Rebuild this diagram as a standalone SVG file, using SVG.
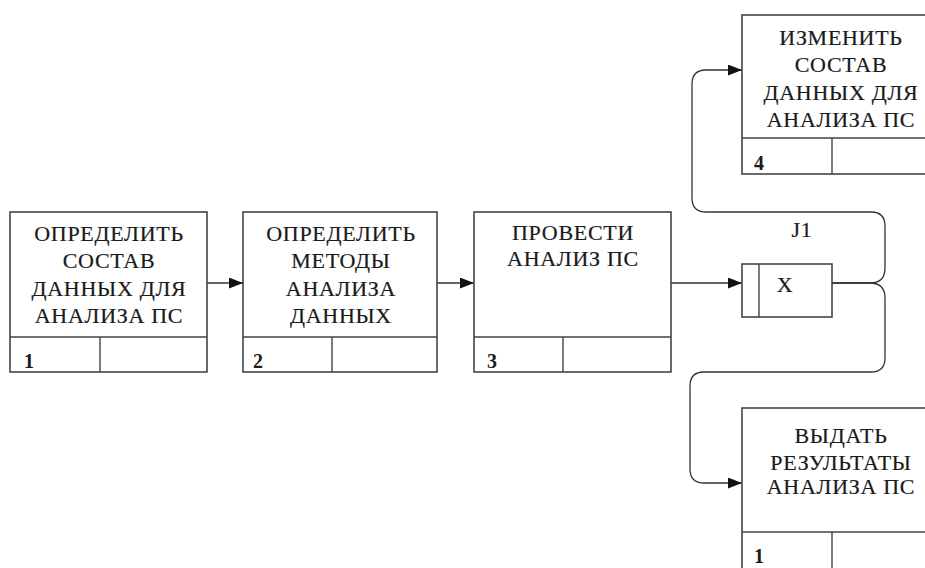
<svg xmlns="http://www.w3.org/2000/svg" width="925" height="568" viewBox="0 0 925 568">
<defs>
<style>
.box{fill:#fff;stroke:#444;stroke-width:1.6}
.ln{fill:none;stroke:#444;stroke-width:1.4}
text{font-family:'Liberation Serif','Times New Roman',serif}
.t{font-size:22px;letter-spacing:0.7px;fill:#1a1a1a;stroke:#1a1a1a;stroke-width:0.2px;text-anchor:middle}
.n{font-size:20px;font-weight:bold;fill:#1a1a1a}
.c{fill:none;stroke:#333;stroke-width:1.3}
</style>
<marker id="ah" viewBox="0 0 14 11" refX="14" refY="5.5" markerWidth="14" markerHeight="11" markerUnits="userSpaceOnUse" orient="auto">
<path d="M0,0 L14,5.5 L0,11 Z" fill="#111"/>
</marker>
</defs>
<rect width="925" height="568" fill="#fff"/>
<g id="connectors">
<path class="c" d="M207,283 H243" marker-end="url(#ah)"/>
<path class="c" d="M437,283 H474" marker-end="url(#ah)"/>
<path class="c" d="M671,283 H742" marker-end="url(#ah)"/>
<path class="c" d="M832,283 H870 Q885,283 885,268 V226 Q885,212 871,212 H706 Q692,212 692,198 V84 Q692,70 706,70 H742" marker-end="url(#ah)"/>
<path class="c" d="M832,283 H870 Q885,283 885,298 V358 Q885,372 871,372 H704 Q690,372 690,386 V469 Q690,483 704,483 H742" marker-end="url(#ah)"/>
</g>
<g id="node1">
<rect class="box" x="10" y="212" width="197" height="160"/>
<path class="ln" d="M10,337 H207 M100,337 V372"/>
<text class="t" x="109" y="241">ОПРЕДЕЛИТЬ</text>
<text class="t" x="109" y="268">СОСТАВ</text>
<text class="t" x="109" y="296">ДАННЫХ ДЛЯ</text>
<text class="t" x="109" y="323">АНАЛИЗА ПС</text>
<text class="n" x="24" y="368">1</text>
</g>
<g id="node2">
<rect class="box" x="243" y="212" width="194" height="160"/>
<path class="ln" d="M243,337 H437 M332,337 V372"/>
<text class="t" x="341" y="241">ОПРЕДЕЛИТЬ</text>
<text class="t" x="341" y="268">МЕТОДЫ</text>
<text class="t" x="341" y="296">АНАЛИЗА</text>
<text class="t" x="341" y="323">ДАННЫХ</text>
<text class="n" x="253" y="368">2</text>
</g>
<g id="node3">
<rect class="box" x="474" y="212" width="197" height="160"/>
<path class="ln" d="M474,337 H671 M563,337 V372"/>
<text class="t" x="573" y="240">ПРОВЕСТИ</text>
<text class="t" x="573" y="266">АНАЛИЗ ПС</text>
<text class="n" x="487" y="368">3</text>
</g>
<g id="junction">
<rect class="box" x="742" y="264" width="90" height="53"/>
<path class="ln" d="M759,264 V317"/>
<text class="t" x="785" y="292">X</text>
<text class="t" x="802" y="237">J1</text>
</g>
<g id="node4">
<rect class="box" x="742" y="15" width="197" height="159"/>
<path class="ln" d="M742,138 H939 M832,138 V174"/>
<text class="t" x="841" y="45">ИЗМЕНИТЬ</text>
<text class="t" x="841" y="72">СОСТАВ</text>
<text class="t" x="841" y="100">ДАННЫХ ДЛЯ</text>
<text class="t" x="841" y="127">АНАЛИЗА ПС</text>
<text class="n" x="754" y="170">4</text>
</g>
<g id="node5">
<rect class="box" x="742" y="408" width="197" height="170"/>
<path class="ln" d="M742,532 H939 M832,532 V570"/>
<text class="t" x="841" y="443">ВЫДАТЬ</text>
<text class="t" x="841" y="470">РЕЗУЛЬТАТЫ</text>
<text class="t" x="841" y="494">АНАЛИЗА ПС</text>
<text class="n" x="754" y="563">1</text>
</g>
</svg>
